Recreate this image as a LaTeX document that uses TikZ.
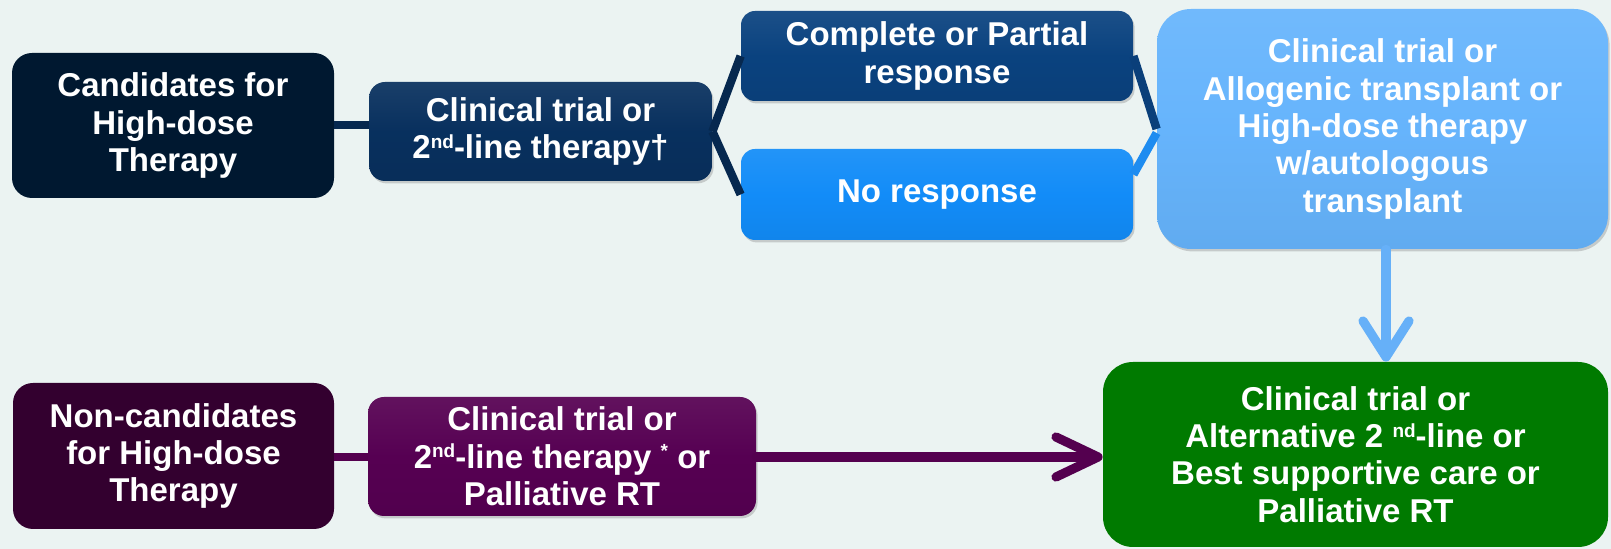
\documentclass[tikz,border=0pt]{standalone}
\usepackage{fontspec}
\setmainfont{Liberation Sans}
\usetikzlibrary{arrows.meta,calc,shadows}

\definecolor{bgcol}{HTML}{EBF3F2}
\definecolor{candcol}{HTML}{001830}
\definecolor{clincol}{HTML}{08305E}
\definecolor{respcol}{HTML}{0A427F}
\definecolor{norecol}{HTML}{128CF8}
\definecolor{hdtcol}{HTML}{66B4FC}
\definecolor{greencol}{HTML}{007A00}
\definecolor{noncandcol}{HTML}{33002F}
\definecolor{purpcol}{HTML}{560052}
\definecolor{purplink}{HTML}{54004F}
\definecolor{darklink}{HTML}{06284F}
\definecolor{midlink}{HTML}{0A3F7A}
\definecolor{lightlink}{HTML}{1E8CF0}
\definecolor{downlink}{HTML}{66B0F8}

% small raised ordinal/footnote marks
\newcommand{\upmark}[1]{\raisebox{0.6ex}{\fontsize{9.5}{9.5}\selectfont #1}}

\begin{document}
\begin{tikzpicture}[x=0.5pt,y=-0.5pt,
  box/.style={rounded corners=#1, inner sep=0pt, align=center, text=white,
    font=\bfseries\fontsize{16.5}{18.7}\selectfont},
  bevel/.style={drop shadow={opacity=0.35, shadow xshift=0.8pt, shadow yshift=-1.2pt}},
  glossy/.style={top color=#1!93!white, bottom color=#1!95!black, middle color=#1},
  link/.style={line width=4.2pt},
  bigarrow/.style={line width=4.6pt, line cap=round}
]
% canvas
\fill[bgcol] (0,0) rectangle (1611,549);
\useasboundingbox (0,0) rectangle (1611,549);

% candidates branch
\node[box=10pt, fill=candcol, minimum width=161pt, minimum height=72.5pt]
  (cand) at (173,125.5) {Candidates for\\High-dose\\Therapy};
\node[box=8pt, glossy=clincol, bevel, minimum width=171.5pt, minimum height=49.5pt]
  (clin) at (540.5,131.5) {Clinical trial or\\2\upmark{nd}-line therapy†};
\node[box=7pt, glossy=respcol, bevel, minimum width=196pt, minimum height=45pt]
  (resp) at (937,56) {Complete or Partial\\response};
\node[box=7pt, glossy=norecol, bevel, minimum width=196pt, minimum height=45.5pt]
  (nore) at (937,194.5) {No response};
\node[box=17pt, glossy=hdtcol, bevel, minimum width=225.5pt, minimum height=120pt]
  (hdt) at (1382.5,129) {Clinical trial or\\Allogenic transplant or\\High-dose therapy\\w/autologous\\transplant};

% non-candidates branch
\node[box=10pt, fill=noncandcol, minimum width=160.5pt, minimum height=73pt]
  (noncand) at (173.5,456) {Non-candidates\\for High-dose\\Therapy};
\node[box=8pt, glossy=purpcol, bevel, minimum width=194pt, minimum height=59.5pt]
  (purp) at (562,456.5) {Clinical trial or\\2\upmark{nd}-line therapy \upmark{*} or\\Palliative RT};
\node[box=15pt, fill=greencol, minimum width=252.5pt, minimum height=92.5pt]
  (green) at (1355.5,454.5) {Clinical trial or\\Alternative 2 \upmark{nd}-line or\\Best supportive care or\\Palliative RT};

% connectors
\draw[link, darklink] (cand.east |- 0,125) -- (clin.west |- 0,125);
\draw[link, darklink] (clin.east) -- (resp.west);
\draw[link, darklink] (clin.east) -- (nore.west);
\draw[link, midlink] (resp.east) -- (hdt.west);
\draw[link, lightlink] ($(nore.east)+(0,-20)$) -- ($(hdt.west)+(0,4)$);
\draw[bigarrow, downlink, -{Straight Barb[length=18pt, width=23pt, round]}]
  (hdt.south -| 1386,0) -- (green.north -| 1386,0);

\draw[link, purplink] (noncand.east |- 0,457) -- (purp.west |- 0,457);
\draw[bigarrow, purplink, -{Straight Barb[length=21pt, width=20pt, round]}]
  (purp.east |- 0,457) -- (green.west |- 0,457);
\end{tikzpicture}
\end{document}
